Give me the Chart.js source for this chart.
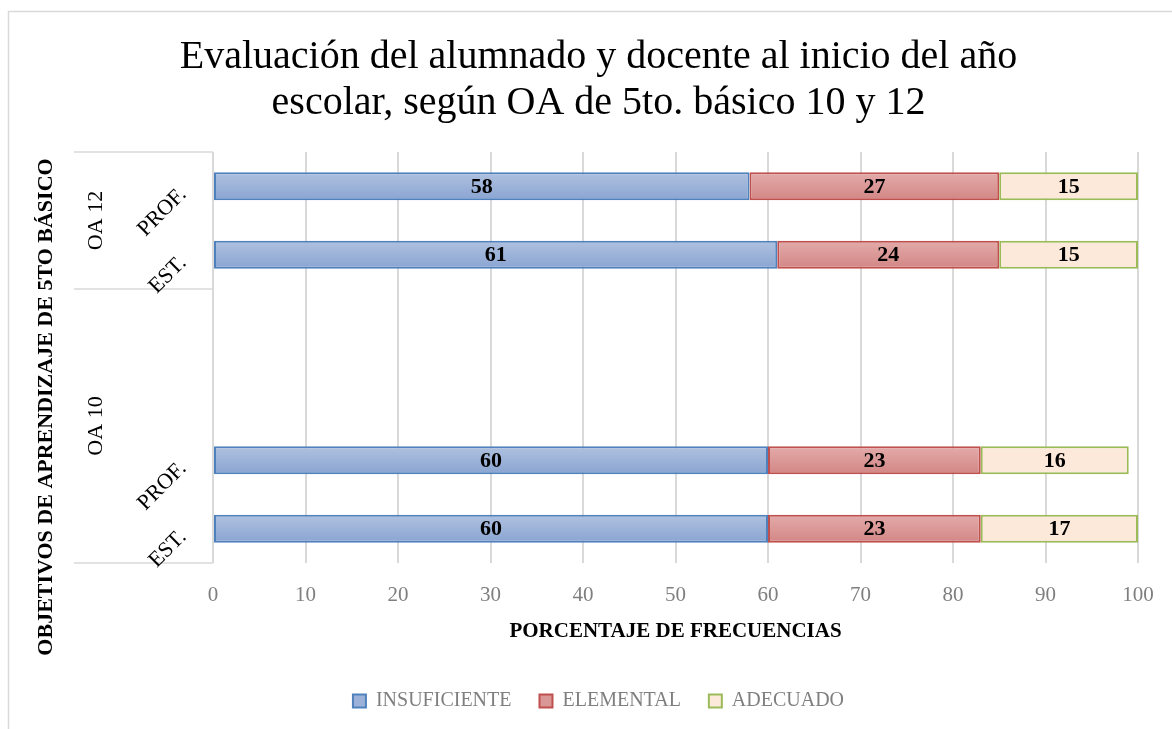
<!DOCTYPE html>
<html>
<head>
<meta charset="utf-8">
<script src="https://cdn.jsdelivr.net/npm/chart.js@4"></script>
<style>
  html, body { margin: 0; padding: 0; background: #fff; }
  #wrap { width: 1172px; height: 729px; position: relative; }
</style>
</head>
<body>
<div id="wrap"><canvas id="chart" width="1172" height="729"></canvas></div>
<script>
/* categories, top to bottom (two blank rows pad the OA 10 group) */
const categories = ["PROF.", "EST.", "", "", "PROF.", "EST."];
const groups = [
  { label: "OA 12", from: 0, to: 1 },
  { label: "OA 10", from: 2, to: 5 },
];
const insuficiente = [58, 61, null, null, 60, 60];
const elemental    = [27, 24, null, null, 23, 23];
const adecuado     = [15, 15, null, null, 16, 17];
const xTicks = [0, 10, 20, 30, 40, 50, 60, 70, 80, 90, 100];

const serif = "'Liberation Serif', 'DejaVu Serif', serif";
const gridColor = "#d9d9d9";

// vertical gradient inside each bar, like the Office fill
function barFill(top, bottom, flat) {
  return ctx => {
    const ch = ctx.chart;
    const ys = ch.scales && ch.scales.y;
    if (ctx.type !== "data" || !ys || ys.getPixelForValue(ctx.dataIndex) == null) return flat;
    const cy = ys.getPixelForValue(ctx.dataIndex);
    if (!isFinite(cy)) return flat;
    const g = ch.ctx.createLinearGradient(0, cy - 14, 0, cy + 14);
    g.addColorStop(0, top);
    g.addColorStop(1, bottom);
    return g;
  };
}

/* frame, y-axis category labels, group boxes and axis title */
const decorations = {
  id: "decorations",
  beforeDraw(chart) {
    const c = chart.ctx;
    c.save();
    c.strokeStyle = gridColor;
    c.lineWidth = 1.5;
    c.beginPath();
    c.moveTo(8.5, 729); c.lineTo(8.5, 11.5); c.lineTo(1172, 11.5);
    c.stroke();
    c.restore();
  },
  afterDraw(chart) {
    const c = chart.ctx;
    const y = chart.scales.y;
    const area = chart.chartArea;
    const step = (area.bottom - area.top) / categories.length;
    c.save();
    // group box lines
    c.strokeStyle = gridColor;
    c.lineWidth = 1.5;
    c.beginPath();
    const boxLeft = 74;
    [area.top, area.top + step * 2, area.bottom].forEach(yy => {
      c.moveTo(boxLeft, yy); c.lineTo(area.left, yy);
    });
    c.moveTo(area.left, area.top); c.lineTo(area.left, area.bottom);
    c.stroke();

    // category labels rotated -45°
    c.fillStyle = "#000";
    c.font = "22px " + serif;
    categories.forEach((lab, i) => {
      if (!lab) return;
      const cy = y.getPixelForValue(i);
      c.save();
      c.translate(183, cy + 5);
      c.rotate(-Math.PI / 4);
      c.textAlign = "right";
      c.textBaseline = "middle";
      c.fillText(lab, 0, 0);
      c.restore();
    });

    // group labels vertical
    groups.forEach(g => {
      const top = area.top + step * g.from;
      const bot = area.top + step * (g.to + 1);
      c.save();
      c.translate(96, (top + bot) / 2);
      c.rotate(-Math.PI / 2);
      c.textAlign = "center";
      c.textBaseline = "middle";
      c.fillText(g.label, 0, 0);
      c.restore();
    });

    // y axis title
    c.save();
    c.translate(46, 407);
    c.rotate(-Math.PI / 2);
    c.textAlign = "center";
    c.textBaseline = "middle";
    c.font = "bold 22px " + serif;
    c.fillText("OBJETIVOS DE APRENDIZAJE DE 5TO BÁSICO", 0, 0);
    c.restore();

    // value labels
    c.font = "bold 22px " + serif;
    c.textAlign = "center";
    c.textBaseline = "middle";
    chart.data.datasets.forEach((ds, di) => {
      chart.getDatasetMeta(di).data.forEach((bar, i) => {
        const v = ds.data[i];
        if (v == null) return;
        const p = bar.getProps(["x", "y", "base"], true);
        c.fillText(String(v), (p.x + p.base) / 2, p.y + 1);
      });
    });
    c.restore();
  }
};

new Chart(document.getElementById("chart"), {
  type: "bar",
  data: {
    labels: categories,
    datasets: [
      { label: "INSUFICIENTE", data: insuficiente, backgroundColor: barFill("#afc1df", "#8aa5d2", "#9cb2d9"), borderColor: "#4f81bd" },
      { label: "ELEMENTAL", data: elemental, backgroundColor: barFill("#e3abaa", "#d28684", "#d99795"), borderColor: "#c0504d" },
      { label: "ADECUADO", data: adecuado, backgroundColor: "#fde9d9", borderColor: "#9bbb59" },
    ].map(d => Object.assign(d, { borderWidth: 2, borderSkipped: false, categoryPercentage: 1, barPercentage: 0.41 })),
  },
  options: {
    indexAxis: "y",
    responsive: false,
    animation: false,
    layout: { padding: { left: 25, right: 0, top: 0, bottom: 8 } },
    plugins: {
      title: {
        display: true,
        text: ["Evaluación del alumnado y docente al inicio del año", "escolar, según OA de 5to. básico 10 y 12"],
        color: "#000",
        font: { family: serif, size: 40, weight: "normal", lineHeight: 1.15 },
        padding: { top: 34, bottom: 26 },
      },
      legend: {
        position: "bottom",
        labels: {
          color: "#7f7f7f",
          font: { family: serif, size: 20 },
          boxWidth: 13, boxHeight: 13,
          padding: 28,
          generateLabels: ch => Chart.defaults.plugins.legend.labels.generateLabels(ch).map((it, i) => {
            it.fillStyle = ["#9cb2d9", "#d99795", "#fde9d9"][i];
            return it;
          }),
        },
      },
      tooltip: { enabled: false },
    },
    scales: {
      x: {
        stacked: true,
        min: 0, max: 100,
        afterBuildTicks: s => { s.ticks = xTicks.map(v => ({ value: v })); },
        afterFit: s => { s.height = 100; s.paddingRight = 34; },
        grid: { color: gridColor, lineWidth: 2, drawTicks: false },
        border: { display: false },
        ticks: { color: "#7f7f7f", font: { family: serif, size: 21 }, padding: 20 },
        title: {
          display: true,
          text: "PORCENTAJE DE FRECUENCIAS",
          color: "#000",
          font: { family: serif, size: 21, weight: "bold" },
          padding: { top: 0, bottom: 19 },
        },
      },
      y: {
        stacked: true,
        ticks: { display: false },
        grid: { display: false },
        border: { display: false },
        afterFit: s => { s.width = 188; },
      },
    },
  },
  plugins: [decorations],
});
</script>
</body>
</html>
